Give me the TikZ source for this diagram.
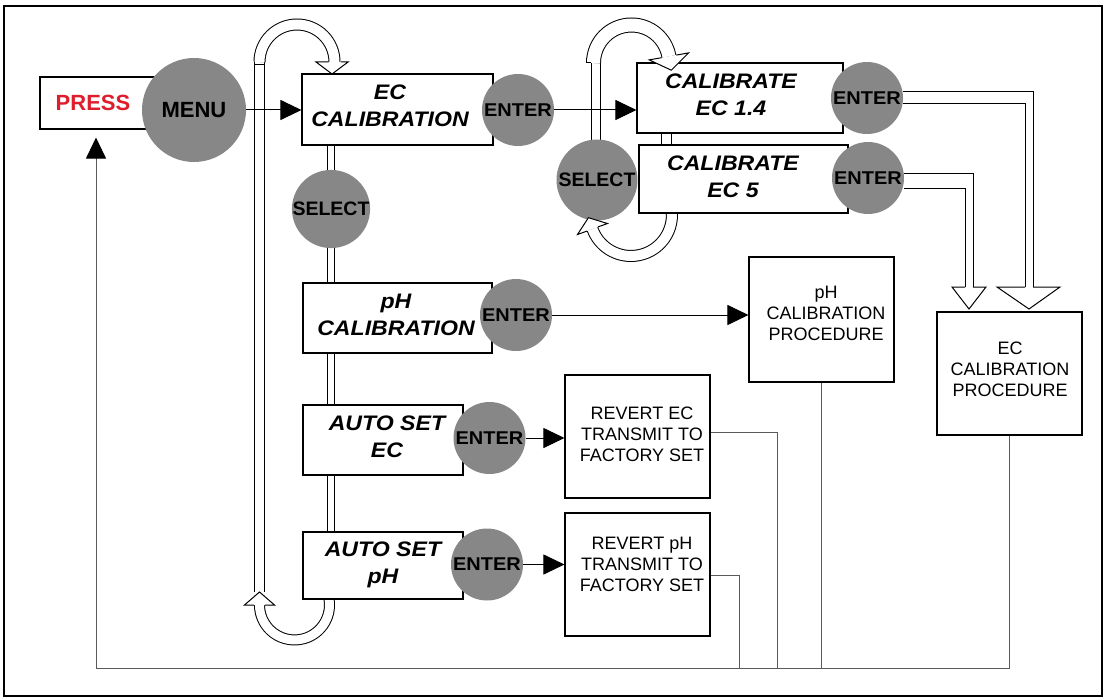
\documentclass[tikz,border=0pt]{standalone}
\usepackage{fontspec}
\setmainfont{Liberation Sans}
\usetikzlibrary{arrows.meta,calc}
\pgfdeclarelayer{bg}
\pgfsetlayers{bg,main}
\definecolor{cgray}{RGB}{135,135,135}
\definecolor{pressred}{RGB}{222,30,45}
\definecolor{retgray}{RGB}{90,90,90}
\newcommand\hx[2]{\scalebox{#1}[1]{\begin{tabular}{@{}c@{}}#2\end{tabular}}}
\tikzset{
  box/.style={draw=black, line width=1.1pt, fill=white, inner sep=0pt, rectangle},
  btn/.style={circle, fill=cgray, inner sep=0pt},
  btntxt/.style={font=\fontsize{18.5}{20}\selectfont\bfseries},
  lbl/.style={font=\fontsize{21}{27}\selectfont\bfseries\itshape, inner sep=0pt},
  proc/.style={font=\fontsize{18}{21}\selectfont, inner sep=0pt},
  arr/.style={line width=1pt, -{Triangle[length=21pt,width=20pt]}},
  band/.style={draw=black, line width=1pt, double=white},
  ret/.style={draw=retgray, line width=1pt},
  hollow/.style={line width=1pt, line join=miter}
}
\begin{document}
\begin{tikzpicture}[x=1pt,y=-1pt]
\useasboundingbox (0,0) rectangle (1105,698);
\draw[line width=2.2pt] (4,6) rectangle (1102,696);

% boxes
\node[box, minimum width=130pt, minimum height=52pt] (press) at (105,103) {};
\node[box, minimum width=191pt, minimum height=71pt] (ecbox) at (397.5,109.5) {};
\node[box, minimum width=206pt, minimum height=70pt] (cal14) at (740,98) {};
\node[box, minimum width=209pt, minimum height=68pt] (cal5) at (743.5,179) {};
\node[box, minimum width=189pt, minimum height=70pt] (phbox) at (397.5,318) {};
\node[box, minimum width=145pt, minimum height=125pt] (phproc) at (821.5,319.5) {};
\node[box, minimum width=145pt, minimum height=123pt] (ecproc) at (1009.5,373.5) {};
\node[box, minimum width=160pt, minimum height=70pt] (autoEC) at (383,440) {};
\node[box, minimum width=145pt, minimum height=123pt] (revEC) at (637.5,436.5) {};
\node[box, minimum width=160pt, minimum height=67pt] (autoPH) at (383,565.5) {};
\node[box, minimum width=145pt, minimum height=123pt] (revPH) at (637.5,574.5) {};

% buttons
\node[btn, minimum size=104pt, font=\fontsize{22}{24}\selectfont\bfseries] (menu) at (194,110) {MENU};
\node[btn, btntxt, minimum size=72pt] (enEC) at (518,110) {\scalebox{1.08}[1]{ENTER}};
\node[btn, btntxt, minimum size=72pt] (enA) at (867,98) {\scalebox{1.08}[1]{ENTER}};
\node[btn, btntxt, minimum size=72pt] (enB) at (868,178) {\scalebox{1.08}[1]{ENTER}};
\node[btn, minimum size=81pt, font=\fontsize{19.5}{21}\selectfont\bfseries] (selR) at (597,180) {SELECT};
\node[btn, minimum size=78pt, font=\fontsize{19.5}{21}\selectfont\bfseries] (selL) at (331,209) {SELECT};
\node[btn, btntxt, minimum size=72pt] (enPH) at (516,315) {\scalebox{1.08}[1]{ENTER}};
\node[btn, btntxt, minimum size=72pt] (enAE) at (489.5,438) {\scalebox{1.08}[1]{ENTER}};
\node[btn, btntxt, minimum size=72pt] (enAP) at (487,564.5) {\scalebox{1.08}[1]{ENTER}};

\coordinate (retc) at (96,668);

\begin{pgfonlayer}{bg}
  % return lines
  \draw[ret] ($(revEC.east)+(0,-4.5)$) -| (777,668);
  \draw[ret] ($(revPH.east)+(0,0.5)$) -| (739,668);
  \draw[ret] (phproc.south) -- (phproc.south |- retc);
  \draw[ret, shorten >=8pt, -{Triangle[length=21pt,width=20pt,color=black]}] (ecproc.south) |- (retc) -- (retc |- press.south);
  % hollow bands
  \draw[band, double distance=6pt] (ecbox.south -| selL.center) -- (autoPH.north -| selL.center);
  \draw[band, double distance=9pt] (259.5,62) -- (259.5,592);
  \draw[band, double distance=10pt] (259.5,62) arc[start angle=180, end angle=360, radius=37.5];
  \draw[line width=1pt] (254,65) -- (265,65);
  \draw[band, double distance=9pt] (666.5,133) -- (666.5,145);
  \draw[band, double distance=8pt] (596,63) -- (596,150);
  \draw[band, double distance=13pt] (593.5,63) arc[start angle=180, end angle=350, radius=38];
  \draw[line width=1pt] (586,63) -- (591,63);
  \draw[band, double distance=10pt] (671.8,211.4) arc[start angle=-5, end angle=160, radius=41];
  \draw[band, double distance=9pt] (328.3,595.9) arc[start angle=-15, end angle=180, radius=35];
\end{pgfonlayer}

% hollow arrow heads of the loops
\fill[white] (316,62) -- (332,74) -- (348,62) -- cycle;
\draw[hollow] (328.5,62) -- (316,62) -- (332,74) -- (348,62) -- (340.5,62);
\fill[white] (649.2,59.9) -- (671.3,70.2) -- (688.6,52.9) -- cycle;
\draw[hollow] (661.5,57.7) -- (649.2,59.9) -- (671.3,70.2) -- (688.6,52.9) -- (676.3,55.1);
\fill[white] (577.5,234.5) -- (588.4,217.7) -- (607.5,223.5) -- cycle;
\draw[hollow] (586.9,231.1) -- (577.5,234.5) -- (588.4,217.7) -- (607.5,223.5) -- (598.1,226.9);
\fill[white] (244.5,605) -- (259.5,592) -- (274.5,605) -- cycle;
\draw[hollow] (254,605) -- (244.5,605) -- (259.5,592) -- (274.5,605) -- (265,605);

% hollow arrows to EC calibration procedure
\draw[hollow] ($(enA.east)+(0,-6)$) -| (1033,287);
\draw[hollow] ($(enA.east)+(0,6)$) -| (1025,287);
\fill[white] (997,287) -- (1029,309) -- (1060,287) -- cycle;
\draw[hollow] (1025,287) -- (997,287) -- (1029,309) -- (1060,287) -- (1033,287);
\draw[hollow] ($(enB.east)+(0,-5)$) -| (973,287);
\draw[hollow] ($(enB.east)+(0,10)$) -| (965,287);
\fill[white] (952,287) -- (969,309) -- (986,287) -- cycle;
\draw[hollow] (965,287) -- (952,287) -- (969,309) -- (986,287) -- (973,287);

% black arrows
\draw[arr] (menu.east) -- (menu.east -| ecbox.west);
\draw[arr] (enEC.east) -- (enEC.east -| cal14.west);
\draw[arr] (enPH.east) -- (enPH.east -| phproc.west);
\draw[arr] (enAE.east) -- (enAE.east -| revEC.west);
\draw[arr] (enAP.east) -- (enAP.east -| revPH.west);

% texts
\node[font=\fontsize{22}{24}\selectfont\bfseries, text=pressred, inner sep=0pt] (tpress) at (93,103) {PRESS};
\node[lbl] (tec) at (390,108) {\hx{1.1}{EC\\CALIBRATION}};
\node[lbl] (t14) at (731,97) {\hx{1.1}{CALIBRATE\\EC 1.4}};
\node[lbl] (t5) at (733,179) {\hx{1.1}{CALIBRATE\\EC 5}};
\node[lbl] (tph) at (396,317) {\hx{1.1}{pH\\CALIBRATION}};
\node[lbl] (tae) at (387,439) {\hx{1.1}{AUTO SET\\EC}};
\node[lbl] (tap) at (383,565) {\hx{1.1}{AUTO SET\\pH}};
\node[proc] (tpp) at (826,315) {\hx{1}{pH\\CALIBRATION\\PROCEDURE}};
\node[proc] (tep) at (1010,371) {\hx{1}{EC\\CALIBRATION\\PROCEDURE}};
\node[proc] (tre) at (642,436) {\hx{1}{REVERT EC\\TRANSMIT TO\\FACTORY SET}};
\node[proc] (trp) at (642,566) {\hx{1}{REVERT pH\\TRANSMIT TO\\FACTORY SET}};
\end{tikzpicture}
\end{document}
